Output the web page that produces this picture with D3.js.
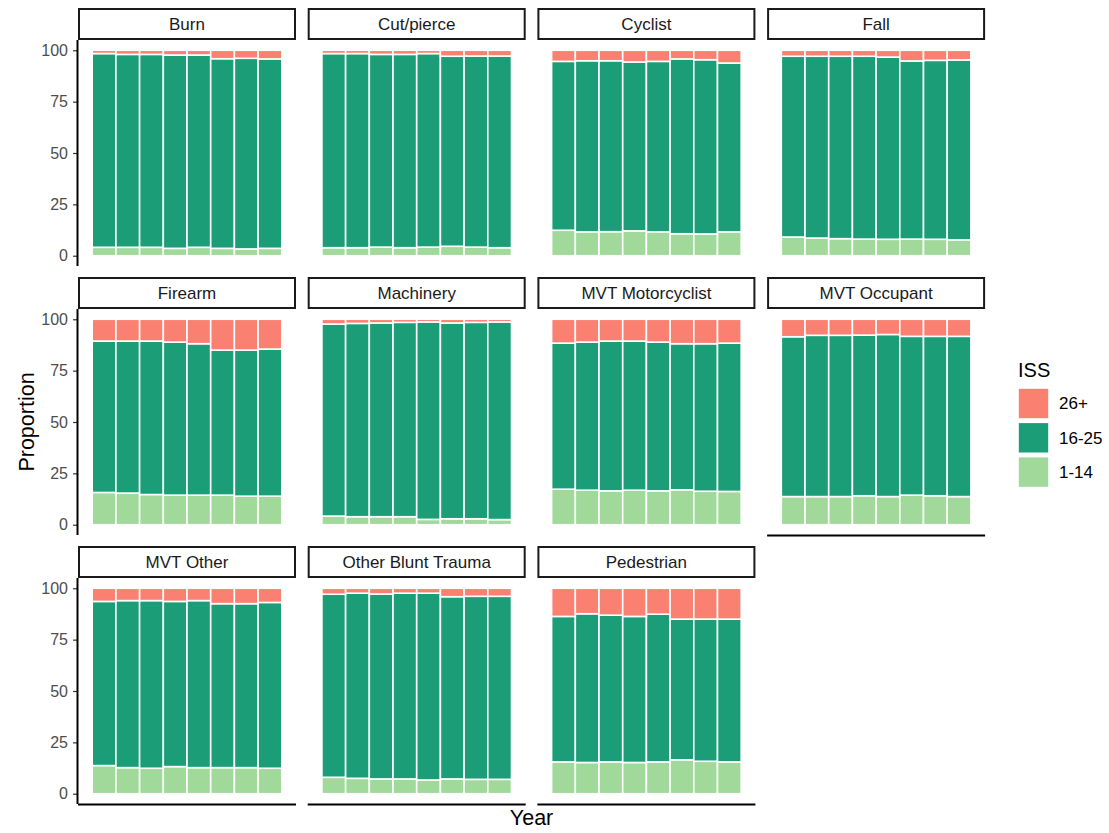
<!DOCTYPE html>
<html>
<head>
<meta charset="utf-8">
<script src="https://cdn.jsdelivr.net/npm/d3@7"></script>
<style>
  body { margin: 0; background: #fff; }
  text { font-family: "Liberation Sans", Arial, sans-serif; }
</style>
</head>
<body>
<div id="grafico"></div>
<script>
// Datos: proporción por mecanismo de lesión, año y grupo ISS
var mecanismos = ["Burn", "Cut/pierce", "Cyclist", "Fall", "Firearm", "Machinery",
    "MVT Motorcyclist", "MVT Occupant", "MVT Other", "Other Blunt Trauma", "Pedestrian"];
var anios = ["1", "2", "3", "4", "5", "6", "7", "8"];
var grupos = ["1-14", "16-25", "26+"];
var colores = ["#a1d99b", "#1b9e77", "#fa8072"];
var ticksY = [0, 25, 50, 75, 100];

// ISS 1-14 (segmento inferior)
var iss1a14 = [
    [4.1, 4.1, 4.1, 3.6, 4.1, 3.6, 3.3, 3.6],
    [3.9, 3.9, 4.2, 3.9, 4.2, 4.6, 4.2, 3.9],
    [12.4, 11.6, 11.7, 12.1, 11.6, 10.7, 10.6, 11.6],
    [9.1, 8.6, 8.3, 8.1, 8.0, 8.1, 8.0, 7.7],
    [15.7, 15.4, 14.7, 14.4, 14.4, 14.4, 13.9, 13.9],
    [4.2, 3.9, 3.9, 3.9, 2.6, 2.9, 2.9, 2.5],
    [17.3, 16.8, 16.5, 16.8, 16.5, 17.0, 16.3, 16.2],
    [13.7, 13.7, 13.7, 14.1, 13.7, 14.4, 14.1, 13.7],
    [13.7, 12.7, 12.4, 13.2, 12.7, 12.7, 12.7, 12.4],
    [8.0, 7.5, 7.2, 7.2, 6.7, 7.2, 7.0, 7.0],
    [15.5, 15.2, 15.5, 15.2, 15.5, 16.5, 15.8, 15.5]
];
// ISS 16-25 (segmento medio)
var iss16a25 = [
    [94.3, 93.9, 93.9, 94.1, 93.6, 92.3, 92.8, 92.2],
    [94.5, 94.5, 93.8, 94.1, 94.2, 92.5, 93.0, 93.3],
    [82.2, 83.3, 83.2, 82.2, 83.0, 85.1, 84.8, 82.2],
    [88.0, 88.5, 88.8, 89.0, 88.7, 86.7, 87.1, 87.6],
    [73.7, 74.0, 74.7, 74.5, 73.7, 70.6, 71.1, 71.6],
    [93.5, 94.1, 94.3, 94.6, 96.1, 95.3, 95.6, 96.2],
    [71.1, 72.1, 72.9, 72.6, 72.4, 71.1, 71.8, 72.2],
    [77.8, 78.5, 78.5, 78.2, 78.9, 77.3, 77.6, 78.0],
    [79.9, 81.3, 81.6, 80.4, 81.3, 79.8, 79.8, 80.7],
    [89.1, 90.1, 90.0, 90.4, 90.9, 88.7, 89.1, 89.1],
    [70.8, 72.4, 71.4, 71.1, 71.9, 68.5, 69.2, 69.5]
];
// ISS 26+ (segmento superior)
var iss26mas = [
    [1.6, 2.0, 2.0, 2.3, 2.3, 4.1, 3.9, 4.2],
    [1.6, 1.6, 2.0, 2.0, 1.6, 2.9, 2.8, 2.8],
    [5.4, 5.1, 5.1, 5.7, 5.4, 4.2, 4.6, 6.2],
    [2.9, 2.9, 2.9, 2.9, 3.3, 5.2, 4.9, 4.7],
    [10.6, 10.6, 10.6, 11.1, 11.9, 15.0, 15.0, 14.5],
    [2.3, 2.0, 1.8, 1.5, 1.3, 1.8, 1.5, 1.3],
    [11.6, 11.1, 10.6, 10.6, 11.1, 11.9, 11.9, 11.6],
    [8.5, 7.8, 7.8, 7.7, 7.4, 8.3, 8.3, 8.3],
    [6.4, 6.0, 6.0, 6.4, 6.0, 7.5, 7.5, 6.9],
    [2.9, 2.4, 2.8, 2.4, 2.4, 4.1, 3.9, 3.9],
    [13.7, 12.4, 13.1, 13.7, 12.6, 15.0, 15.0, 15.0]
];

var width = 1109;
var height = 833;
var ncol = 4;
var x0 = 78, pasoX = 229.7, anchoPanel = 218;
var y0 = 8, pasoY = 269, altoTira = 32, altoPanel = 226;

var svg = d3.select("#grafico")
    .append("svg")
    .attr("width", width)
    .attr("height", height);

var color = d3.scaleOrdinal().domain(grupos).range(colores);
var stack = d3.stack().keys(grupos);

mecanismos.forEach(function(mec, i) {
    var col = i % ncol;
    var fila = Math.floor(i / ncol);
    var px = x0 + col * pasoX;
    var pyTira = y0 + fila * pasoY;
    var pyPlot = pyTira + altoTira;

    var g = svg.append("g")
        .attr("transform", "translate(" + px + "," + pyPlot + ")");

    // escalas del panel (expansión tipo ggplot)
    var unidad = anchoPanel / (anios.length + 1.2);
    var x = d3.scaleBand()
        .domain(anios)
        .range([0.6 * unidad, anchoPanel - 0.6 * unidad])
        .padding(0);
    var y = d3.scaleLinear()
        .domain([-5, 105])
        .range([altoPanel, 0]);

    var filas = anios.map(function(a, j) {
        return { anio: a, "1-14": iss1a14[i][j], "16-25": iss16a25[i][j], "26+": iss26mas[i][j] };
    });

    var capas = g.selectAll(".capa")
        .data(stack(filas))
        .enter()
        .append("g")
        .attr("class", "capa")
        .attr("fill", function(d) { return color(d.key); });

    capas.selectAll("rect")
        .data(function(d) { return d; })
        .enter()
        .append("rect")
        .attr("x", function(d) { return x(d.data.anio); })
        .attr("width", x.bandwidth())
        .attr("y", function(d) { return y(d[1]); })
        .attr("height", function(d) { return y(d[0]) - y(d[1]); })
        .attr("stroke", "#ffffff")
        .attr("stroke-width", 1.6);

    // tira con el nombre
    svg.append("rect")
        .attr("x", px + 1)
        .attr("y", pyTira + 1)
        .attr("width", anchoPanel - 2)
        .attr("height", altoTira - 2)
        .attr("fill", "#fff")
        .attr("stroke", "#1a1a1a")
        .attr("stroke-width", 2);
    svg.append("text")
        .attr("x", px + anchoPanel / 2)
        .attr("y", pyTira + altoTira / 2 + 6)
        .attr("text-anchor", "middle")
        .attr("font-size", "17px")
        .attr("fill", "#1a1a1a")
        .text(mec);

    // eje y solo en la primera columna
    if (col === 0) {
        var ejeY = g.append("g")
            .call(d3.axisLeft(y).tickValues(ticksY).tickSize(5).tickPadding(5));
        ejeY.select(".domain").remove();
        ejeY.selectAll(".tick line").attr("stroke", "#333").attr("stroke-width", 1.2);
        ejeY.selectAll(".tick text")
            .attr("font-size", "16px")
            .attr("fill", "#4d4d4d")
            .style("font-family", "Liberation Sans, Arial, sans-serif");
        g.append("line")
            .attr("x1", -0.5).attr("x2", -0.5)
            .attr("y1", 0).attr("y2", altoPanel)
            .attr("stroke", "#000").attr("stroke-width", 2);
    }

    // eje x solo en paneles sin panel debajo
    if (i + ncol >= mecanismos.length) {
        g.append("line")
            .attr("x1", 0).attr("x2", anchoPanel)
            .attr("y1", altoPanel + 0.5).attr("y2", altoPanel + 0.5)
            .attr("stroke", "#000").attr("stroke-width", 2);
    }
});

// títulos de los ejes
var yMedio = (y0 + altoTira + (y0 + 2 * pasoY + altoTira + altoPanel)) / 2;
svg.append("text")
    .attr("transform", "translate(26," + yMedio + ") rotate(-90)")
    .attr("text-anchor", "middle")
    .attr("dy", "0.35em")
    .attr("font-size", "21.5px")
    .attr("fill", "#000")
    .text("Proportion");

svg.append("text")
    .attr("x", x0 + (3 * pasoX + anchoPanel) / 2)
    .attr("y", 825)
    .attr("text-anchor", "middle")
    .attr("font-size", "21.5px")
    .attr("fill", "#000")
    .text("Year");

// leyenda
var leyenda = svg.append("g").attr("transform", "translate(1018,355)");
leyenda.append("text")
    .attr("x", 0)
    .attr("y", 22)
    .attr("font-size", "20px")
    .attr("fill", "#000")
    .text("ISS");

var ordenLeyenda = grupos.slice().reverse();
var items = leyenda.selectAll(".item")
    .data(ordenLeyenda)
    .enter()
    .append("g")
    .attr("class", "item")
    .attr("transform", function(d, k) { return "translate(0," + (33 + k * 34.3) + ")"; });

items.append("rect")
    .attr("width", 31)
    .attr("height", 31)
    .attr("fill", function(d) { return color(d); })
    .attr("stroke", "#fff")
    .attr("stroke-width", 1.6);

items.append("text")
    .attr("x", 41)
    .attr("y", 15.5)
    .attr("dy", "0.35em")
    .attr("font-size", "17px")
    .attr("fill", "#000")
    .text(function(d) { return d; });
</script>
</body>
</html>
